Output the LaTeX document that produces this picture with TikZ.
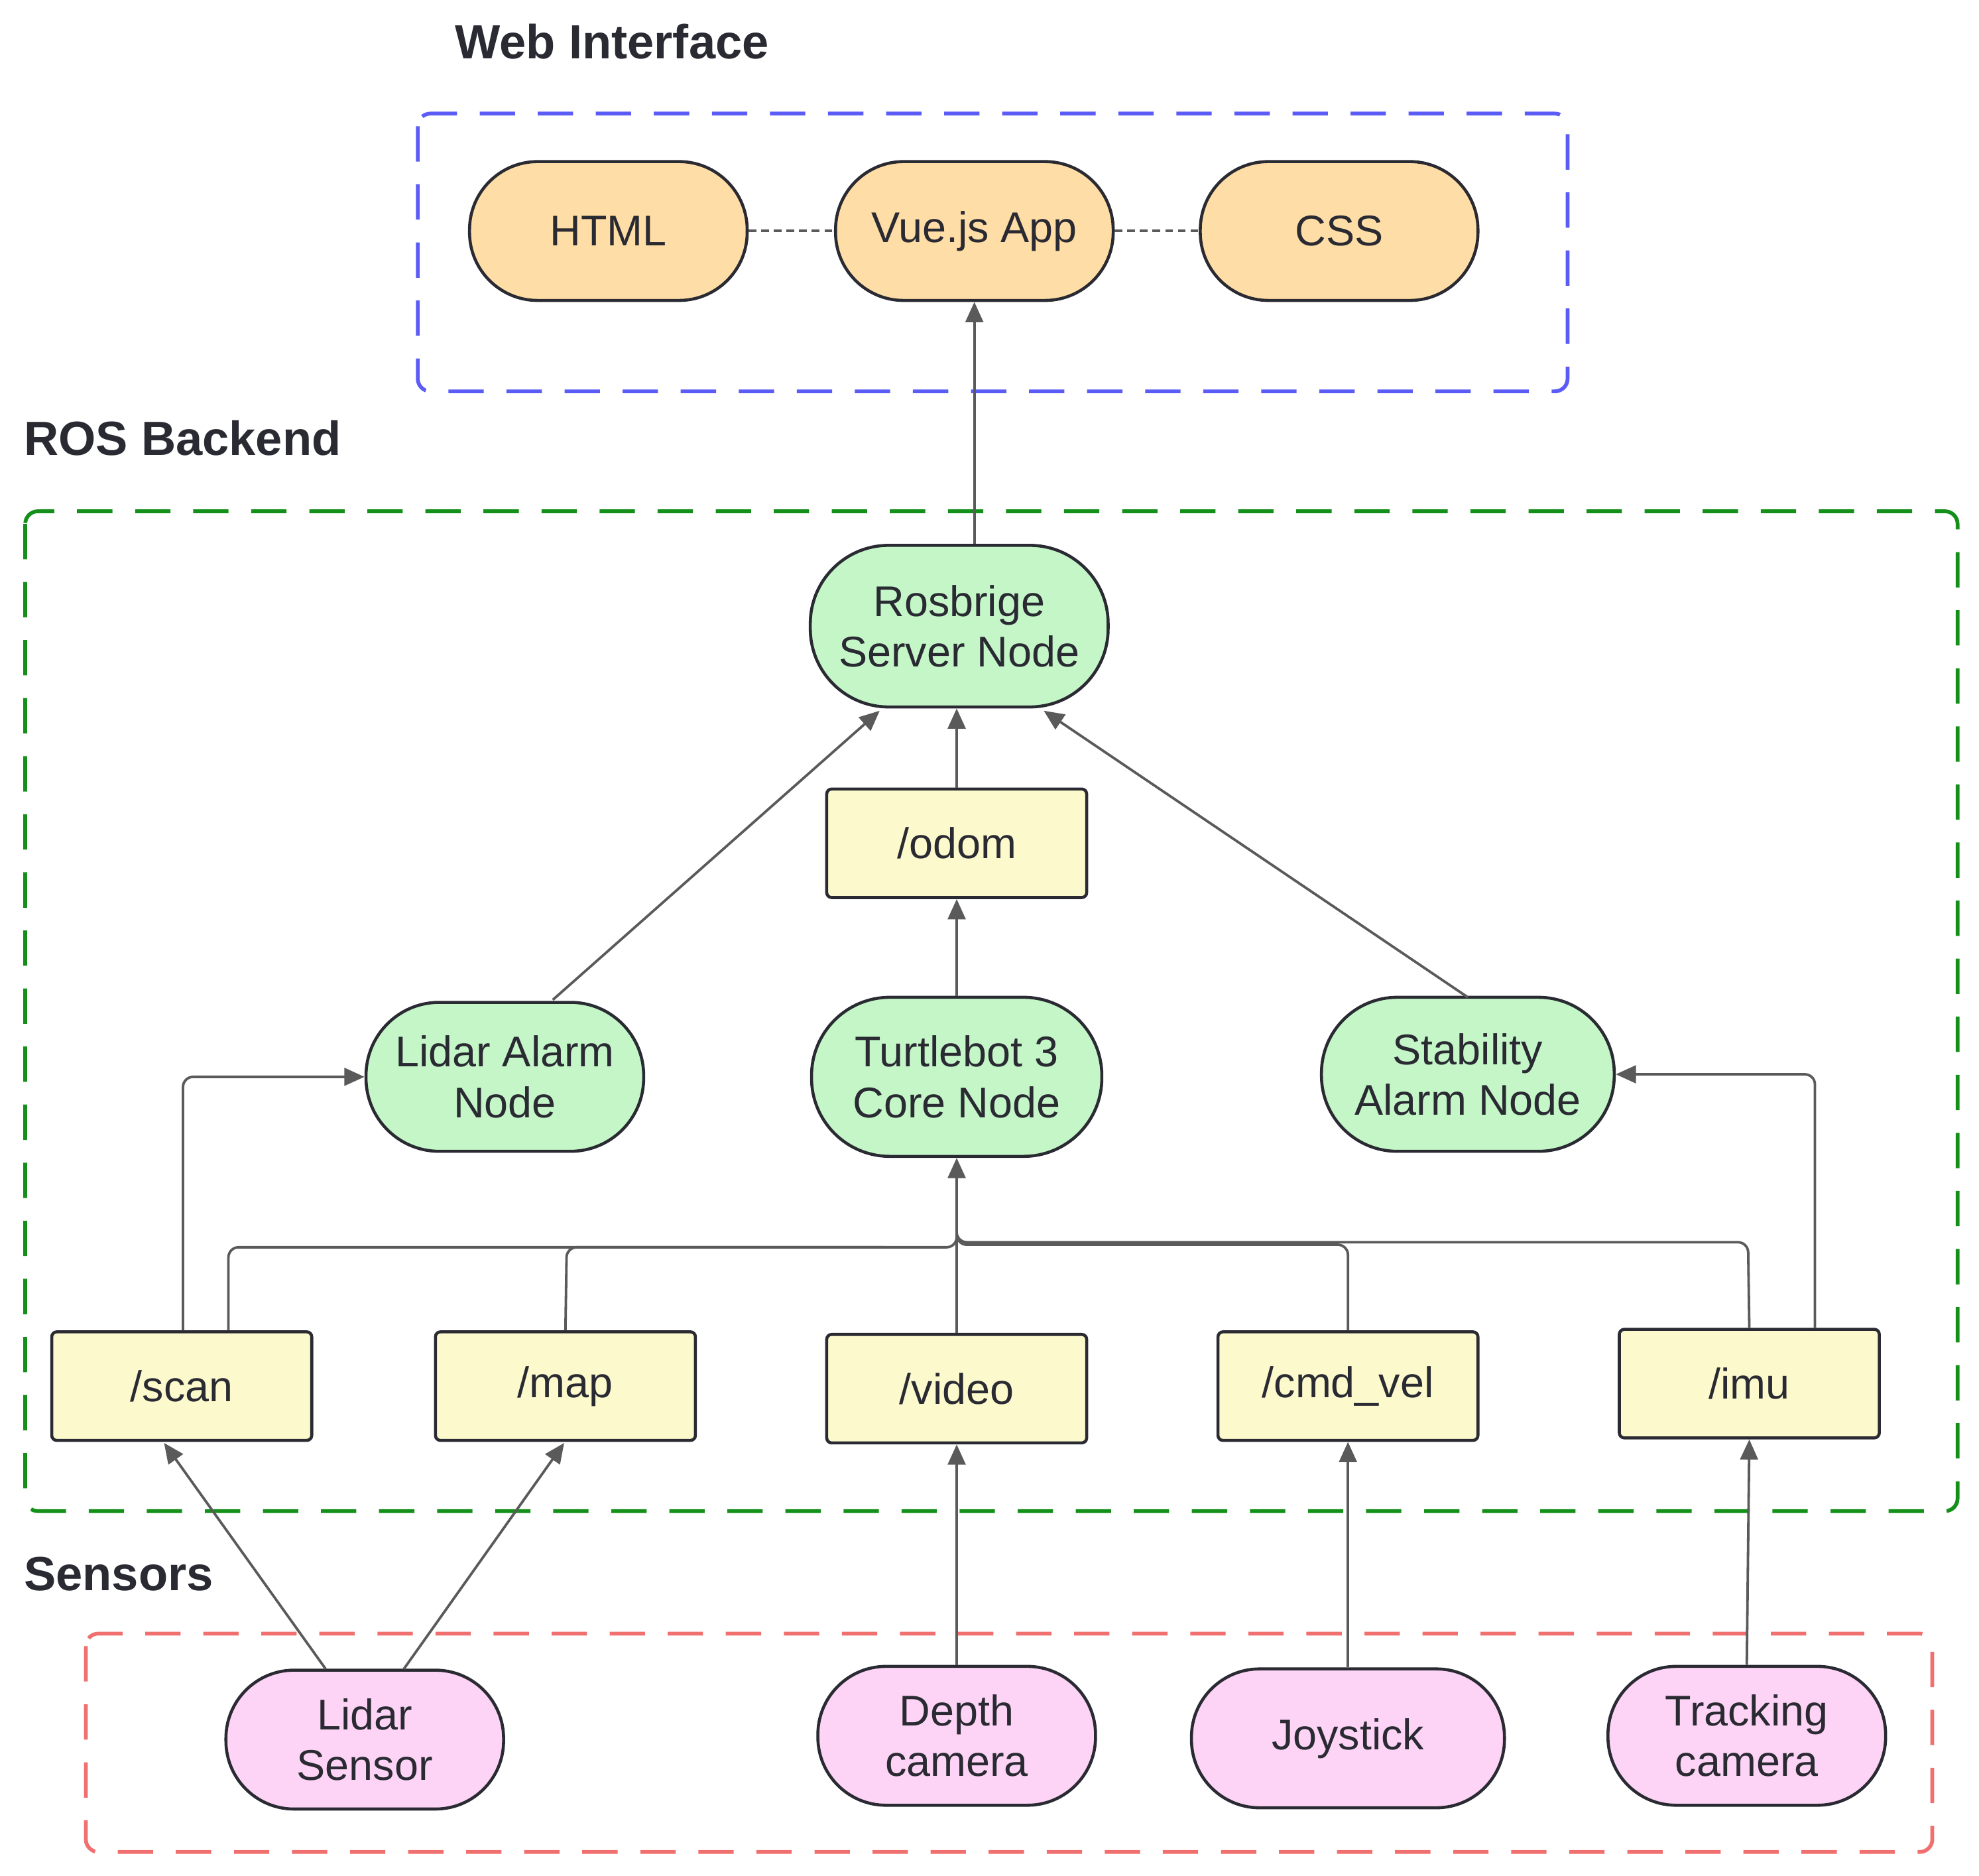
\documentclass[tikz,border=0pt]{standalone}
\usepackage{fontspec}
\setmainfont{Liberation Sans}
\usetikzlibrary{arrows.meta}
\definecolor{orf}{HTML}{FFDDA6}
\definecolor{grf}{HTML}{C4F6C8}
\definecolor{yef}{HTML}{FCFACC}
\definecolor{pkf}{HTML}{FDD4F5}
\definecolor{bld}{HTML}{5B5BF5}
\definecolor{grd}{HTML}{14901A}
\definecolor{rdd}{HTML}{F07070}
\definecolor{txt}{HTML}{2A2A33}
\definecolor{ln}{HTML}{5A5A5A}
\begin{document}
\begin{tikzpicture}[x=0.5pt,y=-0.5pt,
 pill/.style={draw=txt,line width=1.2pt,rounded corners=27pt,minimum height=55pt,align=center,font=\fontsize{17}{20}\selectfont,text=txt},
 topic/.style={draw=txt,line width=1.2pt,rounded corners=2pt,minimum width=103pt,minimum height=43pt,fill=yef,font=\fontsize{17}{20}\selectfont,text=txt},
 grp/.style={dash pattern=on 14pt off 9pt,line width=1.5pt,rounded corners=5pt},
 ttl/.style={font=\bfseries\fontsize{19}{22}\selectfont,text=txt},
 ar/.style={draw=ln,line width=1pt,-{Triangle[length=8pt,width=7pt]}},
 ln2/.style={draw=ln,line width=1pt,rounded corners=4pt}]
\useasboundingbox (0,0) rectangle (1568,1486);
\draw[grp,draw=bld] (331,90) rectangle (1242,310);
\draw[grp,draw=grd] (20,405) rectangle (1551,1197);
\draw[grp,draw=rdd] (68,1294) rectangle (1531,1467);
\node[ttl] (t1) at (485,33) {Web Interface};
\node[ttl,anchor=west] (t2) at (12,347) {ROS Backend};
\node[ttl,anchor=west] (t3) at (12,1247) {Sensors};
\node[pill,fill=orf,minimum width=110pt] (html) at (482,183) {HTML};
\node[pill,fill=orf,minimum width=110pt] (vue) at (772,183) {Vue.js App};
\node[pill,fill=orf,minimum width=110pt] (css) at (1061,183) {CSS};
\node[pill,fill=grf,minimum width=118pt,minimum height=64pt,rounded corners=31pt] (ros) at (760,496) {Rosbrige\\Server Node};
\node[topic] (odom) at (758,668) {/odom};
\node[pill,fill=grf,minimum width=110pt,minimum height=59pt,rounded corners=29pt] (lan) at (400,853) {Lidar Alarm\\Node};
\node[pill,fill=grf,minimum width=115pt,minimum height=63pt,rounded corners=31pt] (tb) at (758,853) {Turtlebot 3\\Core Node};
\node[pill,fill=grf,minimum width=116pt,minimum height=61pt,rounded corners=30pt] (san) at (1163,851) {Stability\\Alarm Node};
\node[topic] (scan) at (144,1098) {/scan};
\node[topic] (map) at (448,1098) {/map};
\node[topic] (video) at (758,1100) {/video};
\node[topic] (cmd) at (1068,1098) {/cmd\_vel};
\node[topic] (imu) at (1386,1096) {/imu};
\node[pill,fill=pkf,minimum width=110pt] (ls) at (289,1378) {Lidar\\Sensor};
\node[pill,fill=pkf,minimum width=110pt] (dc) at (758,1375) {Depth\\camera};
\node[pill,fill=pkf,minimum width=124pt] (js) at (1068,1377) {Joystick};
\node[pill,fill=pkf,minimum width=110pt] (tc) at (1384,1375) {Tracking\\camera};
\draw[draw=ln,line width=1pt,dash pattern=on 3pt off 2pt] (html) -- (vue) (vue) -- (css);
\draw[ar] (ros.north -| vue) -- (vue.south);
\draw[ar] (odom.north) -- (ros.south -| odom);
\draw[ar] (tb.north) -- (odom.south);
\draw[ar] (438,792) -- (697,563);
\draw[ar] (1163,790) -- (827,563);
\draw[ar,rounded corners=4pt] (scan.north -| 145,0) -- (145,853) -- (lan.west);
\draw[ar,rounded corners=4pt] (imu.north -| 1438,0) -- (1438,851) -- (san.east);
\draw[ar] (video.north) -- (tb.south);
\draw[ln2] (scan.north -| 181,0) -- (181,988) -- (758,988) -- (758,960);
\draw[ln2] (map.north) -- (449,988) -- (700,988);
\draw[ln2] (cmd.north) -- (1068,986) -- (758,986) -- (758,960);
\draw[ln2] (imu.north) -- (1385,984) -- (758,984) -- (758,960);
\draw[ar] (258,1322) -- (130,1143);
\draw[ar] (320,1322) -- (447,1143);
\draw[ar] (dc.north) -- (video.south);
\draw[ar] (js.north) -- (cmd.south);
\draw[ar] (tc.north) -- (imu.south);
\end{tikzpicture}
\end{document}
